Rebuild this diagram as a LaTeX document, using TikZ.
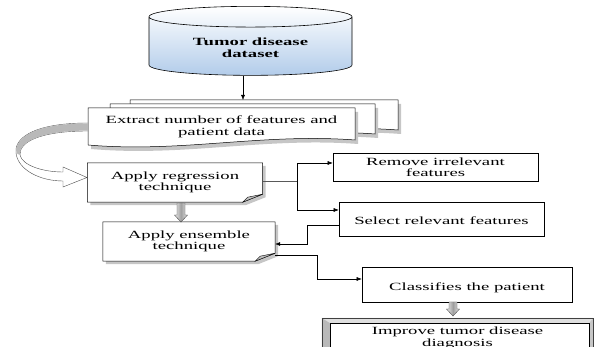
\documentclass[tikz,border=0pt]{standalone}
\usepackage{fontspec}
\setmainfont[FakeStretch=1.7]{Liberation Serif}
\usetikzlibrary{shapes.geometric,arrows.meta,backgrounds}

\definecolor{cylblue}{RGB}{178,204,234}

\tikzset{
  txt/.style={font=\fontsize{11}{11.5}\selectfont, align=center},
  plainbox/.style={txt, draw, fill=white, line width=0.6pt},
  arr/.style={-{Latex[length=5pt,width=4pt]}, line width=0.5pt},
}

% document page with wavy bottom: x1 y1 x2 y2
\newcommand{\docpage}[4]{%
  \fill[gray!45,shift={(3,4)}] (#1,#2) -- (#3,#2) -- (#3,{#4-5}) .. controls ({#3-0.35*(#3-#1)},{#4-12}) and ({#1+0.35*(#3-#1)},{#4+8}) .. (#1,#4) -- cycle;
  \draw[fill=white,line width=0.5pt] (#1,#2) -- (#3,#2) -- (#3,{#4-5}) .. controls ({#3-0.35*(#3-#1)},{#4-12}) and ({#1+0.35*(#3-#1)},{#4+8}) .. (#1,#4) -- cycle;}

% box with folded corner round a named node
\newcommand{\foldbox}[1]{%
  \begin{scope}[on background layer]
  \fill[gray!45,transform canvas={shift={(3pt,-3pt)}}] (#1.north west) -- (#1.north east) -- ([yshift=8pt]#1.south east) -- ([xshift=-20pt]#1.south east) -- (#1.south west) -- cycle;
  \draw[fill=white,line width=0.5pt] (#1.north west) -- (#1.north east) -- ([yshift=8pt]#1.south east) -- ([xshift=-20pt]#1.south east) -- (#1.south west) -- cycle;
  \draw[fill=gray!50,line width=0.4pt] ([yshift=8pt]#1.south east) -- ([xshift=-15pt,yshift=5pt]#1.south east) -- ([xshift=-20pt]#1.south east) -- cycle;
  \end{scope}}

% grey block arrow pointing down: start point, length
\newcommand{\blkarrow}[2]{%
  \begin{scope}[shift={#1}]
  \draw[gray!60!black,line width=0.4pt,left color=gray!15,right color=gray!15,middle color=gray!75] (-4,0) -- (4,0) -- (4,{#2-7}) -- (6.5,{#2-7}) -- (0,#2) -- (-6.5,{#2-7}) -- (-4,{#2-7}) -- cycle;
  \end{scope}}

\begin{document}
\begin{tikzpicture}[x=1pt,y=-1pt]
\clip (0,0) rectangle (595,347);

% dataset
\node[cylinder, shape border rotate=90, draw, line width=0.6pt, aspect=0.17,
      minimum width=203pt, minimum height=69pt, top color=white, bottom color=cylblue,
      txt, font=\fontsize{11}{11.5}\selectfont\bfseries] (ds) at (250.5,47.5) {Tumor disease\\dataset};

% extract pages
\docpage{130}{100}{398}{135}
\docpage{110}{104}{375}{139}
\docpage{88}{108}{355}{145}
\node[txt] (ext) at (221.5,127) {Extract number of features and\\patient data};
\coordinate (pgtop) at (243,100);
\draw[arr] ([xshift=-7.5pt]ds.south) -- (pgtop);

% curved hollow arrow
\draw[fill=white,draw=gray!60!black,line width=0.4pt] (88,123) .. controls (30,123) and (14,140) .. (16,153) .. controls (18,170) and (40,181) .. (63,181) -- (63,187) -- (87,177.5) -- (63,167) -- (63,172) .. controls (42,172) and (22,165) .. (20,155) .. controls (19,142) and (40,131) .. (88,131) -- cycle;
\fill[gray!55] (88,123.4) .. controls (30,123.4) and (14.4,140) .. (16.4,153) -- (19.6,155) .. controls (19,142) and (40,130.6) .. (88,130.6) -- cycle;

% regression and ensemble
\node[txt, minimum width=175pt, minimum height=39pt] (reg) at (175,182.5) {Apply regression\\technique};
\foldbox{reg}
\node[txt, minimum width=172pt, minimum height=39pt] (ens) at (189,241.5) {Apply ensemble\\technique};
\foldbox{ens}
\blkarrow{(181,203)}{19}

% feature boxes
\node[plainbox, minimum width=205pt, minimum height=28pt] (rem) at (435.5,167) {Remove irrelevant\\features};
\node[plainbox, minimum width=205pt, minimum height=34pt, text height=14pt, text depth=2pt] (sel) at (441.5,219) {Select relevant features};
\node[plainbox, minimum width=210pt, minimum height=35pt, text height=14pt, text depth=2pt] (cls) at (467,284.5) {Classifies the patient};
\blkarrow{(453,302)}{14}

% improve frame
\node[txt, minimum width=271pt, minimum height=50pt, text height=8pt, anchor=north] (imp) at (457.5,318) {Improve tumor disease\\diagnosis};
\begin{scope}[on background layer]
\fill[gray!25] (imp.north west) -- (imp.north east) -- ([xshift=-4pt,yshift=-5pt]imp.north east) -- ([xshift=8pt,yshift=-5pt]imp.north west) -- cycle;
\fill[gray!55] (imp.north west) -- ([xshift=8pt,yshift=-5pt]imp.north west) -- ([xshift=8pt]imp.south west) -- (imp.south west) -- cycle;
\fill[gray!45] (imp.north east) -- (imp.south east) -- ([xshift=-4pt]imp.south east) -- ([xshift=-4pt,yshift=-5pt]imp.north east) -- cycle;
\draw[gray!50!black,line width=0.4pt] (imp.north west) rectangle (imp.south east);
\draw[line width=0.5pt] ([xshift=8pt,yshift=-5pt]imp.north west) rectangle ([xshift=-4pt]imp.south east);
\end{scope}

% connectors
\coordinate (sp) at (297,181);
\draw[gray!70!black,line width=0.5pt] (reg.east |- sp) -- (sp);
\draw[arr] (sp) |- ([yshift=4pt]rem.west);
\draw[arr] (sp) |- ([yshift=9pt]sel.west);
\draw[arr] ([yshift=-6pt]sel.west) -- ++(-31,0) |- ([yshift=-2.5pt]ens.east);
\draw[arr] ([yshift=-13.5pt]ens.east) -- ++(42,0) |- ([yshift=5.5pt]cls.west);
\end{tikzpicture}
\end{document}
